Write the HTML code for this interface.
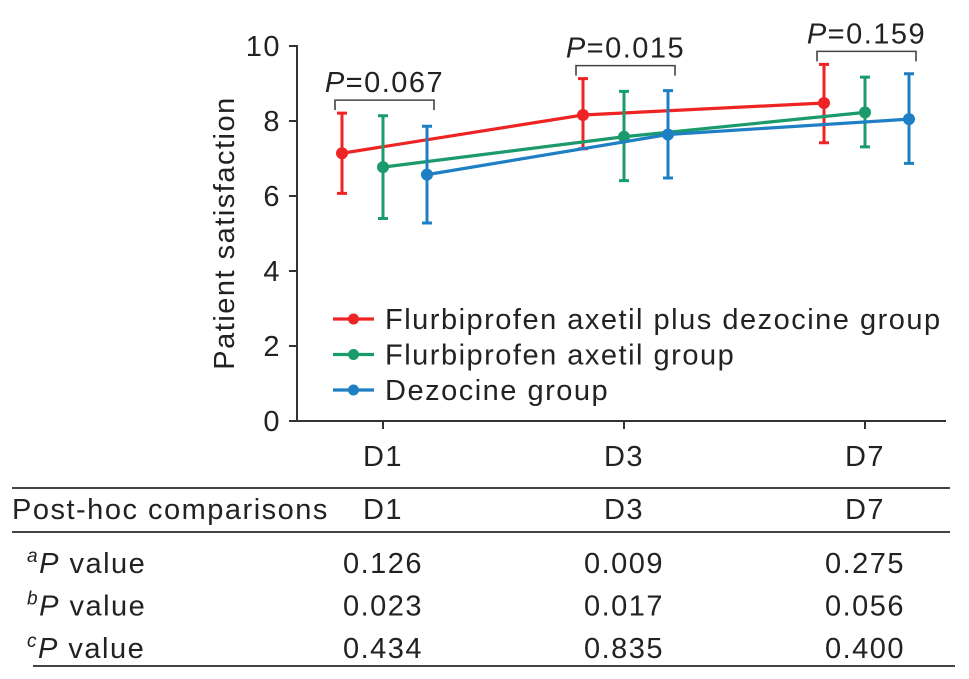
<!DOCTYPE html>
<html><head><meta charset="utf-8"><style>
html,body{margin:0;padding:0;background:#fff;}
svg{display:block;font-family:"Liberation Sans",Arial,sans-serif;}
text{letter-spacing:1.5px;}
</style></head><body>
<svg id="chart" width="969" height="679" viewBox="0 0 969 679">
<g id="axes"></g>
<g id="series"></g>
<g id="legend"></g>
<g id="table"></g>
</svg>
<script>
const categories = ["D1","D3","D7"];
const seriesNames = ["Flurbiprofen axetil plus dezocine group","Flurbiprofen axetil group","Dezocine group"];
const redMean = [7.14, 8.16, 8.48];
const redUpper = [8.21, 9.13, 9.51];
const redLower = [6.07, 7.26, 7.42];
const greenMean = [6.77, 7.58, 8.23];
const greenUpper = [8.14, 8.79, 9.17];
const greenLower = [5.40, 6.41, 7.31];
const blueMean = [6.57, 7.64, 8.05];
const blueUpper = [7.86, 8.81, 9.26];
const blueLower = [5.28, 6.48, 6.87];
const yTicks = [0,2,4,6,8,10];
const pLabels = ["0.067","0.015","0.159"];
const tableRows = [["a","0.126","0.009","0.275"],["b","0.023","0.017","0.056"],["c","0.434","0.835","0.400"]];

const NS="http://www.w3.org/2000/svg";
const FS=29;
function mk(tag, attrs, parent){const e=document.createElementNS(NS,tag);for(const k in attrs)e.setAttribute(k,attrs[k]);parent.appendChild(e);return e;}
const yScale=v=>421-v*37.5;
const xScale=i=>383+i*241;
const offsets=[-41,0,44];
const colors=["#ee2424","#1b9a6b","#1f7fc4"];

const axes=document.getElementById('axes');
let yl=mk('line',{x1:297,y1:45,x2:297,y2:422,stroke:'#333','stroke-width':2},axes);


let xl=mk('line',{x1:296,y1:421,x2:946,y2:421,stroke:'#333','stroke-width':2},axes);


yTicks.forEach(t=>{
  const y=yScale(t);
  const tk=mk('line',{x1:289,y1:y,x2:297,y2:y,stroke:'#333','stroke-width':2},axes);
  
  
  const tx=mk('text',{x:281,y:y+10,'text-anchor':'end','font-size':FS,fill:'#222'},axes);
  tx.textContent=t;
  
  
});
const yt=mk('text',{x:0,y:0,transform:'translate(234,233) rotate(-90)','text-anchor':'middle','font-size':FS,fill:'#222'},axes);
yt.textContent='Patient satisfaction';


categories.forEach((c,i)=>{
  const x=xScale(i);
  const tk=mk('line',{x1:x,y1:421,x2:x,y2:429,stroke:'#333','stroke-width':2},axes);
  
  
  const tx=mk('text',{x:x,y:466,'text-anchor':'middle','font-size':FS,fill:'#222'},axes);
  tx.textContent=c;
  
  
  const by=yScale(Math.max(redUpper[i],greenUpper[i],blueUpper[i]))-13;
  const x1=x+offsets[0]-7, x2=x+offsets[2]+7;
  const br=mk('path',{d:`M${x1},${by+10} V${by} H${x2} V${by+10}`,fill:'none',stroke:'#444','stroke-width':1.6},axes);
  
  
  const pt=mk('text',{x:(x1+x2)/2,y:by-8,'text-anchor':'middle','font-size':FS,fill:'#222'},axes);
  pt.innerHTML='<tspan font-style="italic">P</tspan>='+pLabels[i];
  
  
});

const ser=document.getElementById('series');
const allS=[[redMean,redUpper,redLower],[greenMean,greenUpper,greenLower],[blueMean,blueUpper,blueLower]];
allS.forEach((s,k)=>{
  const [m,u,l]=s;
  const g=mk('g',{},ser);
  
  
  const pts=m.map((v,i)=>(xScale(i)+offsets[k])+','+yScale(v)).join(' ');
  const pl=mk('polyline',{points:pts,fill:'none',stroke:colors[k],'stroke-width':3.2},g);
  
  
  m.forEach((v,i)=>{
    const x=xScale(i)+offsets[k];
    const eb=mk('path',{d:`M${x},${yScale(u[i])} V${yScale(l[i])} M${x-5},${yScale(u[i])} H${x+5} M${x-5},${yScale(l[i])} H${x+5}`,stroke:colors[k],'stroke-width':3,fill:'none'},g);
    
    
    const c=mk('circle',{cx:x,cy:yScale(v),r:6,fill:colors[k]},g);
    
    
  });
});

const lg=document.getElementById('legend');
seriesNames.forEach((n,k)=>{
  const y=319+k*35.5;
  const g=mk('g',{},lg);
  
  
  mk('line',{x1:333,y1:y,x2:374,y2:y,stroke:colors[k],'stroke-width':3.2},g);
  mk('circle',{cx:353.5,cy:y,r:5.5,fill:colors[k]},g);
  const t=mk('text',{x:385,y:y+10,'font-size':FS,fill:'#222'},g);
  t.textContent=n;
});

const tb=document.getElementById('table');
function ln(x1,y,x2,name){const l=mk('line',{x1:x1,y1:y,x2:x2,y2:y,stroke:'#444','stroke-width':2},tb);}
ln(12,488,950,'table-top-rule');
ln(12,532,950,'table-header-rule');
ln(33,666,955,'table-bottom-rule');
const h=mk('text',{x:12,y:519,'font-size':FS,fill:'#222'},tb);
h.textContent='Post-hoc comparisons';


categories.forEach((c,i)=>{
  const t=mk('text',{x:xScale(i),y:519,'text-anchor':'middle','font-size':FS,fill:'#222'},tb);
  t.textContent=c;
  
  
});
tableRows.forEach((r,j)=>{
  const y=573+j*42.5;
  const t=mk('text',{x:27,y:y,'font-size':FS,fill:'#222'},tb);
  t.innerHTML='<tspan font-style="italic" font-size="19" dy="-11">'+r[0]+'</tspan><tspan font-style="italic" dy="11">P</tspan> value';
  
  
  for(let i=0;i<3;i++){
    const v=mk('text',{x:xScale(i),y:y,'text-anchor':'middle','font-size':FS,fill:'#222'},tb);
    v.textContent=r[i+1];
    
    
  }
});
</script>
</body></html>
